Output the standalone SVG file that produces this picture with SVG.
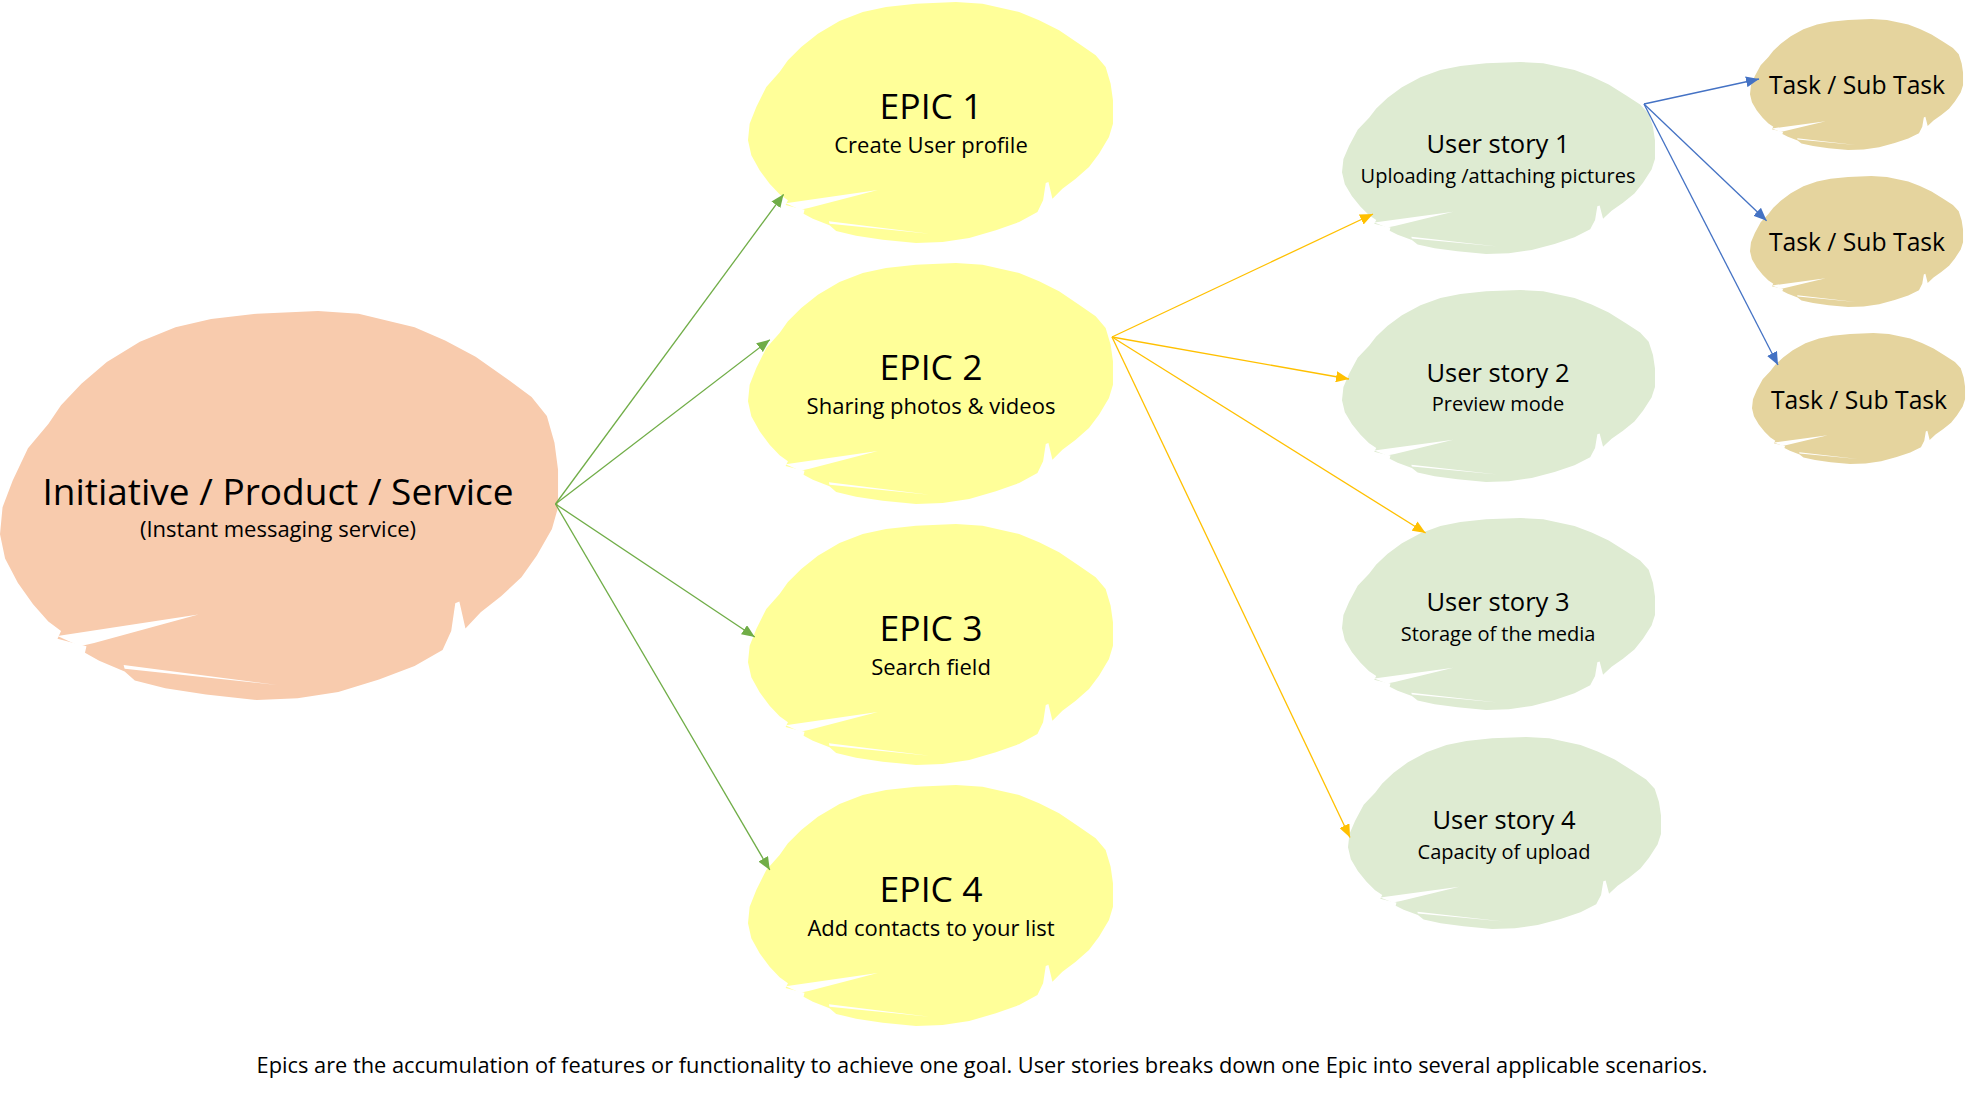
<svg xmlns="http://www.w3.org/2000/svg" xmlns:xlink="http://www.w3.org/1999/xlink" width="1966" height="1096" viewBox="0 0 1966 1096">
<style>
  text { font-family: "Open Sans", "Noto Sans", "Liberation Sans", sans-serif; fill: #000; text-anchor: middle; }
  .t-init { font-size: 37px; }
  .t-epic { font-size: 35.5px; }
  .t-sub { font-size: 22px; }
  .t-us { font-size: 25.5px; }
  .t-ussub { font-size: 20px; }
  .t-task { font-size: 24.7px; }
  .t-cap { font-size: 21.8px; }
  .streak { fill: #ffffff; }
  .peach { fill: #F8CBAD; }
  .yellow { fill: #FFFF99; }
  .green { fill: #DEEBD2; }
  .tan { fill: #E5D49E; }
  .c-green { stroke: #70AD47; stroke-width: 1.3; fill: none; marker-end: url(#ah-green); }
  .c-orange { stroke: #FFC000; stroke-width: 1.3; fill: none; marker-end: url(#ah-orange); }
  .c-blue { stroke: #4472C4; stroke-width: 1.3; fill: none; marker-end: url(#ah-blue); }
</style>
<defs>
  <g id="blob">
    <path d="M150,215 L175,180 L215,140 L265,100 L330,62 L400,35 L470,20 L560,10 L680,5 L760,10 L870,35 L930,60 L990,90 L1050,130 L1100,165 L1130,200 L1145,250 L1152,300 L1152,370 L1140,410 L1110,460 L1080,500 L1040,535 L1000,565 L970,595 L958,545 L950,548 L942,600 L925,635 L870,665 L800,690 L720,713 L640,725 L560,728 L460,718 L380,706 L320,692 L300,675 L250,655 L222,640 L225,628 L200,622 L168,614 L175,600 L150,582 L120,550 L90,510 L65,465 L55,420 L60,370 L80,320 L110,260 Z"/>
    <path class="streak" d="M168,609 L445,569 L240,622 L212,628 Z"/>
    <path class="streak" d="M298,663 L600,700 L300,670 Z"/>
  </g>
  <marker id="ah-green" markerUnits="userSpaceOnUse" markerWidth="14" markerHeight="11" refX="13" refY="5.5" orient="auto">
    <path d="M0,0 L13,5.5 L0,11 Z" fill="#70AD47"/>
  </marker>
  <marker id="ah-orange" markerUnits="userSpaceOnUse" markerWidth="14" markerHeight="11" refX="13" refY="5.5" orient="auto">
    <path d="M0,0 L13,5.5 L0,11 Z" fill="#FFC000"/>
  </marker>
  <marker id="ah-blue" markerUnits="userSpaceOnUse" markerWidth="14" markerHeight="11" refX="13" refY="5.5" orient="auto">
    <path d="M0,0 L13,5.5 L0,11 Z" fill="#4472C4"/>
  </marker>
</defs>
<rect width="1966" height="1096" fill="#ffffff"/>

<g id="initiative">
  <use xlink:href="#blob" href="#blob" class="peach" transform="translate(0,311) scale(0.5087,0.538) translate(-55,-5)"/>
  <text class="t-init" x="278" y="505">Initiative / Product / Service</text>
  <text class="t-sub" x="278" y="537">(Instant messaging service)</text>
</g>

<g id="epic1">
  <use xlink:href="#blob" href="#blob" class="yellow" transform="translate(748,2) scale(0.3327,0.3333) translate(-55,-5)"/>
  <text class="t-epic" x="931" y="119">EPIC 1</text>
  <text class="t-sub" x="931" y="153">Create User profile</text>
</g>
<g id="epic2">
  <use xlink:href="#blob" href="#blob" class="yellow" transform="translate(748,263) scale(0.3327,0.3333) translate(-55,-5)"/>
  <text class="t-epic" x="931" y="380">EPIC 2</text>
  <text class="t-sub" x="931" y="414">Sharing photos &amp; videos</text>
</g>
<g id="epic3">
  <use xlink:href="#blob" href="#blob" class="yellow" transform="translate(748,524) scale(0.3327,0.3333) translate(-55,-5)"/>
  <text class="t-epic" x="931" y="641">EPIC 3</text>
  <text class="t-sub" x="931" y="675">Search field</text>
</g>
<g id="epic4">
  <use xlink:href="#blob" href="#blob" class="yellow" transform="translate(748,785) scale(0.3327,0.3333) translate(-55,-5)"/>
  <text class="t-epic" x="931" y="902">EPIC 4</text>
  <text class="t-sub" x="931" y="936">Add contacts to your list</text>
</g>

<g id="story1">
  <use xlink:href="#blob" href="#blob" class="green" transform="translate(1342,62) scale(0.2853,0.2656) translate(-55,-5)"/>
  <text class="t-us" x="1498" y="153">User story 1</text>
  <text class="t-ussub" x="1498" y="183">Uploading /attaching pictures</text>
</g>
<g id="story2">
  <use xlink:href="#blob" href="#blob" class="green" transform="translate(1342,290) scale(0.2853,0.2656) translate(-55,-5)"/>
  <text class="t-us" x="1498" y="382">User story 2</text>
  <text class="t-ussub" x="1498" y="411">Preview mode</text>
</g>
<g id="story3">
  <use xlink:href="#blob" href="#blob" class="green" transform="translate(1342,518) scale(0.2853,0.2656) translate(-55,-5)"/>
  <text class="t-us" x="1498" y="611">User story 3</text>
  <text class="t-ussub" x="1498" y="641">Storage of the media</text>
</g>
<g id="story4">
  <use xlink:href="#blob" href="#blob" class="green" transform="translate(1348,737) scale(0.2853,0.2656) translate(-55,-5)"/>
  <text class="t-us" x="1504" y="829">User story 4</text>
  <text class="t-ussub" x="1504" y="859">Capacity of upload</text>
</g>

<g id="task1">
  <use xlink:href="#blob" href="#blob" class="tan" transform="translate(1750,19) scale(0.1942,0.1812) translate(-55,-5)"/>
  <text class="t-task" x="1857" y="94">Task / Sub Task</text>
</g>
<g id="task2">
  <use xlink:href="#blob" href="#blob" class="tan" transform="translate(1750,176) scale(0.1942,0.1812) translate(-55,-5)"/>
  <text class="t-task" x="1857" y="251">Task / Sub Task</text>
</g>
<g id="task3">
  <use xlink:href="#blob" href="#blob" class="tan" transform="translate(1752,333) scale(0.1942,0.1812) translate(-55,-5)"/>
  <text class="t-task" x="1859" y="409">Task / Sub Task</text>
</g>

<g id="connectors">
  <line class="c-green" x1="555.5" y1="504" x2="783.6" y2="194.3"/>
  <line class="c-green" x1="555.5" y1="504" x2="769.8" y2="339.8"/>
  <line class="c-green" x1="555.5" y1="504" x2="754.8" y2="637"/>
  <line class="c-green" x1="555.5" y1="504" x2="769.8" y2="870"/>
  <line class="c-orange" x1="1112" y1="337" x2="1373" y2="214"/>
  <line class="c-orange" x1="1112" y1="337" x2="1349" y2="379"/>
  <line class="c-orange" x1="1112" y1="337" x2="1425.6" y2="533"/>
  <line class="c-orange" x1="1112" y1="337" x2="1350" y2="837.5"/>
  <line class="c-blue" x1="1644" y1="104" x2="1759" y2="79"/>
  <line class="c-blue" x1="1644" y1="104" x2="1766.6" y2="220.7"/>
  <line class="c-blue" x1="1644" y1="104" x2="1778" y2="365"/>
</g>

<text id="caption" class="t-cap" x="982" y="1073">Epics are the accumulation of features or functionality to achieve one goal. User stories breaks down one Epic into several applicable scenarios.</text>
</svg>
